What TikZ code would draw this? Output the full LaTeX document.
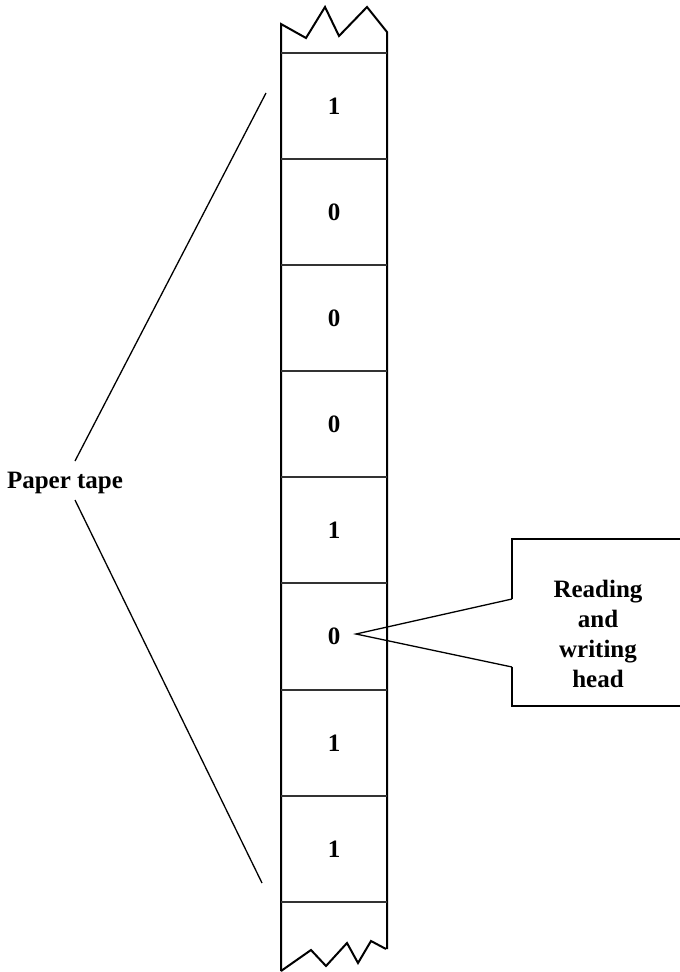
\documentclass[tikz,border=0pt]{standalone}
\usepackage{fontspec}
\setmainfont{Liberation Serif}
\begin{document}
\begin{tikzpicture}[x=1pt,y=-1pt,
  tapeedge/.style={line width=2pt, line join=miter},
  cellline/.style={line width=1.5pt, draw=black!80},
  digit/.style={font=\fontsize{25}{28}\selectfont\bfseries, inner sep=0pt},
  lbl/.style={font=\fontsize{25}{30}\selectfont\bfseries, inner sep=0pt, align=center},
  pointer/.style={line width=1.3pt}]
\useasboundingbox (0,0) rectangle (680,972);
\clip (0,0) rectangle (680,972);
% tape outline
\draw[tapeedge] (387,949) -- (387,32) -- (367,7) -- (339,36) -- (325,7) -- (306,38) -- (281,24) -- (281,971);
\draw[tapeedge] (281,971) -- (311,950) -- (326,966) -- (347,943) -- (358,963) -- (371,941) -- (386,949);
% cell separators
\foreach \y in {53,159,265,371,477,583,690,796,902}
  \draw[cellline] (281,\y) -- (387,\y);
% digits
\node[digit] (c1) at (334,106) {1};
\node[digit] (c2) at (334,212) {0};
\node[digit] (c3) at (334,318) {0};
\node[digit] (c4) at (334,424) {0};
\node[digit] (c5) at (334,530) {1};
\node[digit] (c6) at (334,636) {0};
\node[digit] (c7) at (334,743) {1};
\node[digit] (c8) at (334,849) {1};
% paper tape label
\node[lbl, anchor=base] (pt) at (65,488) {Paper tape};
\coordinate (pta) at (75,461);
\coordinate (ptb) at (75,500);
\coordinate (tt) at (266,93);
\coordinate (tb) at (262,883);
\draw[pointer] (pta) -- (tt);
\draw[pointer] (ptb) -- (tb);
% callout
\coordinate (tip) at (356,634);
\draw[line width=1.6pt, line join=miter] (512,599) -- (512,539) -- (690,539) -- (690,706) -- (512,706) -- (512,667);
\draw[pointer] (512,599) -- (tip) -- (512,667);
\node[lbl, anchor=center] (rh) at (598,634) {Reading\\and\\writing\\head};
\end{tikzpicture}
\end{document}
